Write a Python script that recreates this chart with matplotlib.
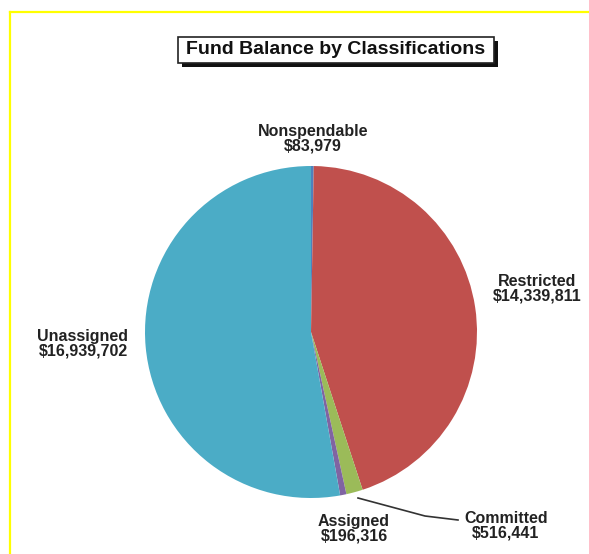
import matplotlib.pyplot as plt
from matplotlib.patches import Rectangle

# Fund balance values by classification
labels = ["Nonspendable", "Restricted", "Committed", "Assigned", "Unassigned"]
values = [83979, 14339811, 516441, 196316, 16939702]
colors = ["#4F81BD", "#C0504D", "#9BBB59", "#8064A2", "#4BACC6"]

W, H = 589, 554
fig = plt.figure(figsize=(W / 100, H / 100), dpi=100)
ax = fig.add_axes([0, 0, 1, 1])

def py(y):
    # convert pixel y (top-down) to data y
    return H - y

font = ["Liberation Sans", "DejaVu Sans"]

# pie
ax.pie(values, colors=colors, startangle=90, counterclock=False,
       center=(311, py(332)), radius=166, frame=True,
       wedgeprops=dict(linewidth=0))
ax.set_xlim(0, W)
ax.set_ylim(0, H)
ax.set_aspect("equal")
ax.axis("off")

# yellow frame (top and left only)
ax.plot([10, W], [py(12), py(12)], color="#FFFF00", lw=1.6)
ax.plot([10, 10], [py(12), 0], color="#FFFF00", lw=1.6)

# title box with drop shadow
ax.add_patch(Rectangle((182, py(67)), 316, 26, facecolor="#111111", edgecolor="none"))
ax.add_patch(Rectangle((178, py(63)), 316, 26, facecolor="white", edgecolor="#222222", lw=1.2))
ax.text(336, py(50), "Fund Balance by Classifications", ha="center", va="center",
        fontsize=14, fontweight="bold", family=font, color="#111111")

def fmt(v):
    return "${:,}".format(v)

lab_pos = {
    "Nonspendable": (313, 139),
    "Restricted": (537, 289),
    "Committed": (506, 526),
    "Assigned": (354, 529),
    "Unassigned": (83, 344),
}
for name, v in zip(labels, values):
    x, y = lab_pos[name]
    ax.text(x, py(y), name + "\n" + fmt(v), ha="center", va="center",
            fontsize=11.5, fontweight="bold", family=font, color="#222222",
            linespacing=0.95)

# leader line for Committed
ax.plot([358, 425, 458], [py(498), py(516), py(520)], color="#333333", lw=1.2)

fig.savefig("out.png", dpi=100, facecolor="white")
